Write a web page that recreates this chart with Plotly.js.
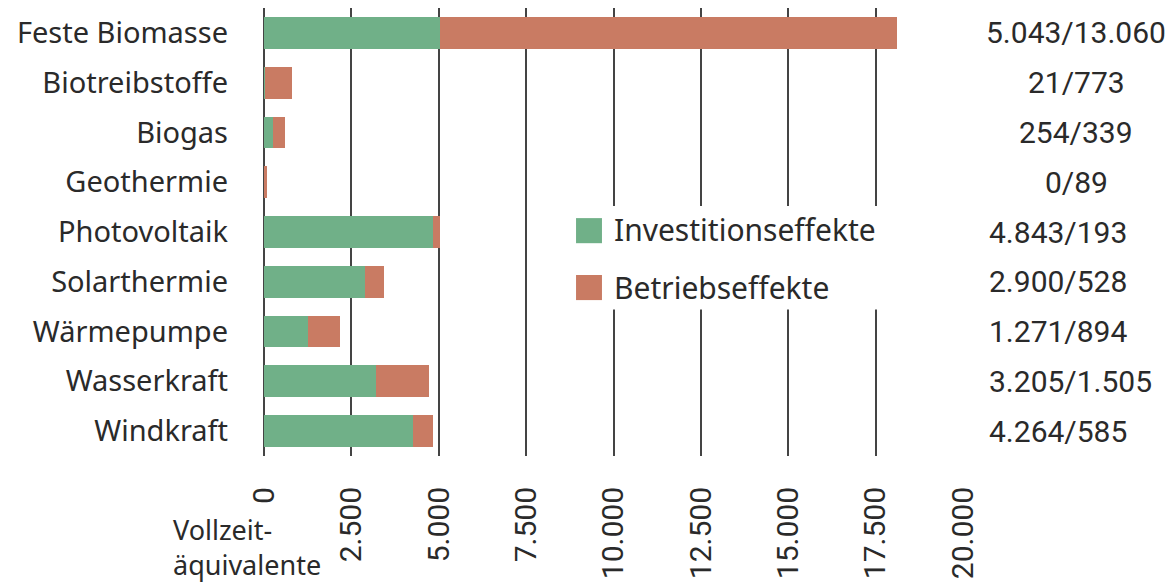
<!DOCTYPE html>
<html><head><meta charset="utf-8">
<script src="https://cdn.plot.ly/plotly-3.0.1.min.js"></script>
<style>html,body{margin:0;padding:0;background:#fff}#chart{width:1172px;height:582px}</style>
</head><body><div id="chart"></div>
<script>
const categories = ["Feste Biomasse","Biotreibstoffe","Biogas","Geothermie","Photovoltaik","Solarthermie","Wärmepumpe","Wasserkraft","Windkraft"];
const investition = [5043, 21, 254, 0, 4843, 2900, 1271, 3205, 4264];
const betrieb = [13060, 773, 339, 89, 193, 528, 894, 1505, 585];
const rightLabels = ["5.043/13.060","21/773","254/339","0/89","4.843/193","2.900/528","1.271/894","3.205/1.505","4.264/585"];
const seriesNames = ["Investitionseffekte","Betriebseffekte"];
const xTicks = [0,2500,5000,7500,10000,12500,15000,17500,20000];
const axisTitle = "Vollzeit-<br>äquivalente";

const green = "#70B088", red = "#C97B63";
const catFont = {family:"Noto Sans", size:29, color:"#2a2a2a"};
const numFont = {family:"Roboto", size:30, color:"#2a2a2a"};

const traces = [
  {type:"bar", orientation:"h", y:categories, x:investition, name:seriesNames[0], marker:{color:green, line:{width:0}}, width:0.64, hoverinfo:"none"},
  {type:"bar", orientation:"h", y:categories, x:betrieb, name:seriesNames[1], marker:{color:red, line:{width:0}}, width:0.64, hoverinfo:"none"}
];

// right-hand value column: first four centred, rest left-aligned
const annotations = rightLabels.map((t,i)=>({
  xref:"paper", yref:"y", y:categories[i],
  x: i<4 ? 1.162 : 1.0345, xanchor: i<4 ? "center" : "left",
  text:t, showarrow:false, font:numFont
}));
annotations.push({xref:"paper", yref:"paper", x:-0.1316, y:-0.203, xanchor:"left", yanchor:"middle", align:"left",
  text:axisTitle, showarrow:false, borderpad:0, font:{family:"Noto Sans", size:27, color:"#2a2a2a"}});
// legend texts
const legY = [0.505, 0.376];
seriesNames.forEach((n,i)=>annotations.push({xref:"paper", yref:"paper", x:0.498, y:legY[i], xanchor:"left", yanchor:"middle",
  text:n, showarrow:false, font:{family:"Noto Sans", size:30, color:"#2a2a2a"}}));

const shapes = [
  {type:"rect", xref:"paper", yref:"paper", x0:0.43, x1:0.89, y0:0.327, y1:0.558, fillcolor:"#fff", line:{width:0}, layer:"above"},
  {type:"rect", xref:"paper", yref:"paper", x0:0.4464, x1:0.4835, y0:0.475, y1:0.531, fillcolor:green, line:{width:0}, layer:"above"},
  {type:"rect", xref:"paper", yref:"paper", x0:0.4464, x1:0.4835, y0:0.348, y1:0.404, fillcolor:red, line:{width:0}, layer:"above"}
];

const layout = {
  width:1172, height:582,
  margin:{l:264, r:209, t:8, b:126},
  paper_bgcolor:"#fff", plot_bgcolor:"#fff",
  barmode:"stack", showlegend:false,
  separators:",.",
  xaxis:{range:[0,20000], tickvals:xTicks, tickformat:",d", tickangle:-90,
    showgrid:true, gridcolor:"#444", gridwidth:2, zeroline:true, zerolinecolor:"#444", zerolinewidth:2,
    showline:false, ticks:"", ticklabelstandoff:24, tickfont:numFont, fixedrange:true},
  yaxis:{autorange:"reversed", showgrid:false, zeroline:false, showline:false, ticks:"",
    ticklabelstandoff:35, tickfont:catFont, fixedrange:true},
  annotations, shapes
};
Plotly.newPlot("chart", traces, layout, {displayModeBar:false, staticPlot:true});
</script></body></html>
